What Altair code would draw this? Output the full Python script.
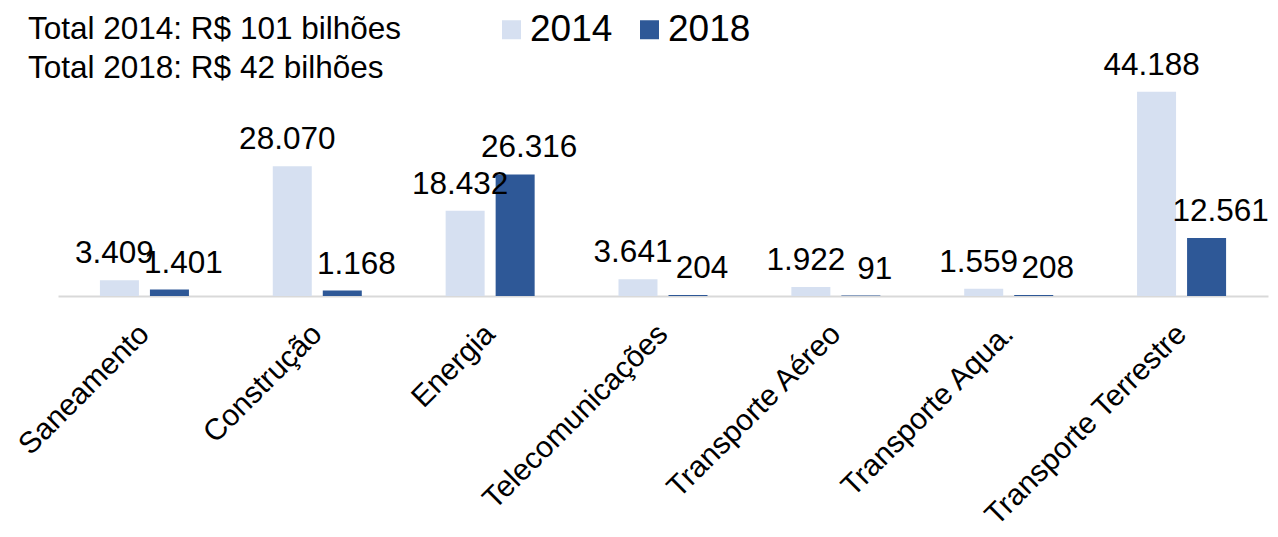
import altair as alt
import pandas as pd

categories = [
    "Saneamento",
    "Construção",
    "Energia",
    "Telecomunicações",
    "Transporte Aéreo",
    "Transporte Aqua.",
    "Transporte Terrestre",
]
years = ["2014", "2018"]
values_2014 = [3409, 28070, 18432, 3641, 1922, 1559, 44188]
values_2018 = [1401, 1168, 26316, 204, 91, 208, 12561]
colors = ["#D6E0F1", "#2E5897"]
title_lines = ["Total 2014: R$ 101 bilhões", "Total 2018: R$ 42 bilhões"]

rows = []
for c, a, b in zip(categories, values_2014, values_2018):
    rows.append({"setor": c, "ano": "2014", "valor": a})
    rows.append({"setor": c, "ano": "2018", "valor": b})
df = pd.DataFrame(rows)
df["rotulo"] = df["valor"].map(lambda v: f"{v:,}".replace(",", "."))

FONT = "Liberation Sans"

x = alt.X(
    "setor:N",
    sort=categories,
    scale=alt.Scale(paddingInner=0.485, paddingOuter=0.2425),
    axis=alt.Axis(
        title=None,
        labelAngle=-45,
        labelAlign="right",
        labelBaseline="middle",
        labelFontSize=30,
        labelFont=FONT,
        labelColor="#000000",
        labelPadding=33,
        labelLimit=0,
        ticks=False,
        grid=False,
        domainColor="#D9D9D9",
        domainWidth=2,
    ),
)
xo = alt.XOffset("ano:N", sort=years, scale=alt.Scale(domain=years, paddingInner=0.22, paddingOuter=0))
y = alt.Y("valor:Q", scale=alt.Scale(domain=[0, 50000], nice=False), axis=None)

base = alt.Chart(df)

bars = base.mark_bar().encode(
    x=x,
    xOffset=xo,
    y=y,
    color=alt.Color(
        "ano:N",
        sort=years,
        scale=alt.Scale(domain=years, range=colors),
        legend=alt.Legend(
            title=None,
            orient="none",
            legendX=435,
            legendY=-54,
            direction="horizontal",
            symbolType="square",
            symbolSize=361,
            symbolStrokeWidth=0,
            labelFontSize=37,
            labelFont=FONT,
            labelColor="#000000",
            labelOffset=0,
            columnPadding=18,
            padding=0,
        ),
    ),
)

t14 = base.transform_filter(alt.datum.ano == "2014").mark_text(
    baseline="alphabetic", dy=-17, dx=-5, fontSize=31.5, font=FONT, color="#000000"
).encode(x=x, xOffset=xo, y=y, text="rotulo:N")

t18 = base.transform_filter(alt.datum.ano == "2018").mark_text(
    baseline="alphabetic", dy=-17, dx=14, fontSize=31.5, font=FONT, color="#000000"
).encode(x=x, xOffset=xo, y=y, text="rotulo:N")

chart = alt.layer(bars, t14, t18).properties(
    width=1210,
    height=231,
    title=alt.TitleParams(
        text=title_lines,
        anchor="start",
        frame="group",
        dx=-30,
        offset=-73,
        fontSize=31.5,
        font=FONT,
        fontWeight="normal",
        color="#000000",
        lineHeight=39,
        baseline="top",
    ),
    padding={"left": 50, "top": 57, "right": 2, "bottom": 227},
    autosize=alt.AutoSizeParams(type="none"),
).configure_view(stroke=None)

chart.save("out.html", embed_options={"renderer": "svg", "actions": False})
